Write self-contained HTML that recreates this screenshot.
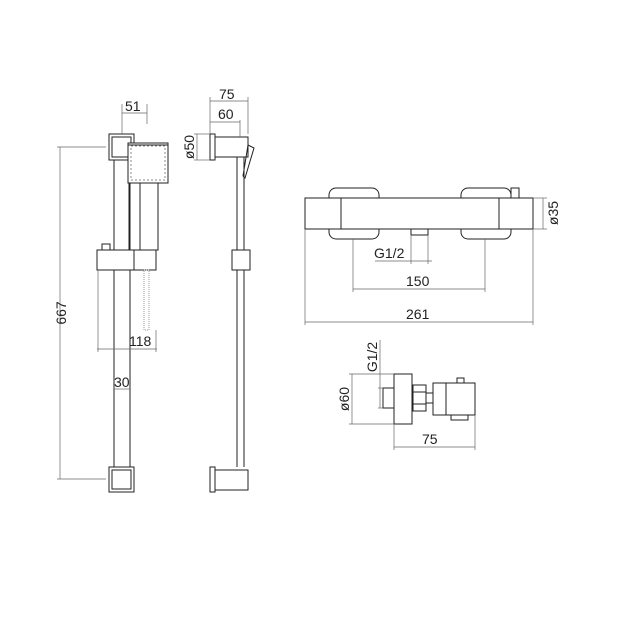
<!DOCTYPE html><html><head><style>body{margin:0;background:#fff}svg{display:block}text{font-family:"Liberation Sans",sans-serif;font-size:14px;fill:#222;stroke:none}</style></head><body>
<svg width="629" height="629" viewBox="0 0 629 629" fill="none" stroke="#222" stroke-width="1">
<rect width="629" height="629" fill="#fff" stroke="none"/>
<rect x="109" y="134" width="25" height="26"/><rect x="112" y="137" width="19" height="20"/>
<rect x="109" y="467" width="25" height="25"/><rect x="112" y="470" width="19" height="19"/>
<line x1="114" y1="160" x2="114" y2="467"/><line x1="130" y1="160" x2="130" y2="467"/>
<rect x="128" y="143" width="40" height="40" fill="#fff"/><rect x="131" y="146" width="34" height="34" stroke-dasharray="2,2" stroke="#888"/>
<line x1="128" y1="145" x2="168" y2="145"/>
<rect x="129" y="183" width="29" height="67"/><line x1="140" y1="183" x2="140" y2="250"/>
<rect x="97" y="250" width="59" height="20" fill="#fff"/><line x1="134" y1="250" x2="134" y2="270"/>
<rect x="102" y="244" width="8" height="6"/>
<rect x="144" y="270" width="5" height="60" stroke="#999" stroke-dasharray="1,1"/>
<g stroke="#666" stroke-width="0.7">
<line x1="122" y1="104" x2="122" y2="134"/><line x1="147" y1="104" x2="147" y2="124"/><line x1="122" y1="113" x2="147" y2="113"/>
<line x1="60" y1="147" x2="60" y2="479"/><line x1="57" y1="147" x2="106" y2="147"/><line x1="57" y1="479" x2="106" y2="479"/>
<line x1="98" y1="270" x2="98" y2="352"/><line x1="156" y1="330" x2="156" y2="352"/><line x1="97" y1="349" x2="157" y2="349"/>
<line x1="114" y1="389" x2="130" y2="389"/>
</g>
<text x="125" y="111">51</text><text x="129" y="346">118</text><text x="114" y="387">30</text>
<text transform="translate(66,313) rotate(-90)" text-anchor="middle">667</text>
<rect x="210" y="134" width="5" height="26"/><rect x="215" y="137" width="33" height="20"/>
<path d="M248 145 L254 148 L245 178 L243 176 Z"/>
<line x1="237" y1="157" x2="237" y2="467"/><line x1="244" y1="157" x2="244" y2="467"/>
<rect x="232" y="250" width="18" height="20" fill="#fff"/>
<rect x="210" y="467" width="5" height="25"/><rect x="215" y="470" width="33" height="20"/>
<g stroke="#666" stroke-width="0.7">
<line x1="210" y1="97" x2="210" y2="134"/><line x1="248" y1="97" x2="248" y2="134"/><line x1="210" y1="101" x2="248" y2="101"/>
<line x1="240" y1="120" x2="240" y2="137"/><line x1="210" y1="122" x2="240" y2="122"/>
<line x1="194" y1="134" x2="210" y2="134"/><line x1="194" y1="160" x2="210" y2="160"/><line x1="197" y1="134" x2="197" y2="160"/>
</g>
<text x="219" y="99">75</text><text x="218" y="119">60</text>
<text transform="translate(194,147) rotate(-90)" text-anchor="middle">ø50</text>
<rect x="329" y="188" width="50" height="51" rx="7"/><rect x="461" y="188" width="50" height="51" rx="7"/>
<rect x="511" y="188" width="8" height="10"/>
<rect x="305" y="198" width="228" height="31" fill="#fff"/>
<line x1="341" y1="198" x2="341" y2="229"/><line x1="499" y1="198" x2="499" y2="229"/>
<rect x="411" y="229" width="17" height="6"/>
<g stroke="#666" stroke-width="0.7">
<line x1="411" y1="235" x2="411" y2="264"/><line x1="428" y1="235" x2="428" y2="264"/><line x1="375" y1="261" x2="432" y2="261"/>
<line x1="353" y1="239" x2="353" y2="292"/><line x1="485" y1="239" x2="485" y2="292"/><line x1="353" y1="289" x2="485" y2="289"/>
<line x1="305" y1="229" x2="305" y2="325"/><line x1="533" y1="229" x2="533" y2="325"/><line x1="305" y1="322" x2="533" y2="322"/>
<line x1="533" y1="198" x2="547" y2="198"/><line x1="533" y1="229" x2="547" y2="229"/><line x1="543" y1="198" x2="543" y2="229"/>
</g>
<text x="374" y="258">G1/2</text><text x="406" y="286">150</text><text x="406" y="319">261</text>
<text transform="translate(558,213) rotate(-90)" text-anchor="middle">ø35</text>
<rect x="394" y="374" width="18" height="50"/>
<rect x="383" y="388" width="11" height="20"/>
<rect x="413" y="385" width="13" height="26"/><line x1="413" y1="392" x2="426" y2="392"/><line x1="413" y1="404" x2="426" y2="404"/>
<rect x="426" y="393" width="7" height="10"/>
<rect x="433" y="383" width="42" height="32"/><line x1="446" y1="383" x2="446" y2="415"/>
<rect x="457" y="378" width="7" height="5"/><rect x="451" y="415" width="17" height="5"/>
<g stroke="#666" stroke-width="0.7">
<line x1="349" y1="374" x2="394" y2="374"/><line x1="349" y1="424" x2="394" y2="424"/><line x1="352" y1="374" x2="352" y2="424"/>
<line x1="378" y1="388" x2="383" y2="388"/><line x1="378" y1="408" x2="383" y2="408"/><line x1="380" y1="340" x2="380" y2="408"/>
<line x1="394" y1="424" x2="394" y2="450"/><line x1="475" y1="415" x2="475" y2="450"/><line x1="394" y1="447" x2="475" y2="447"/>
</g>
<text transform="translate(349,399) rotate(-90)" text-anchor="middle">ø60</text>
<text transform="translate(377,357) rotate(-90)" text-anchor="middle">G1/2</text>
<text x="422" y="444">75</text>
</svg></body></html>
